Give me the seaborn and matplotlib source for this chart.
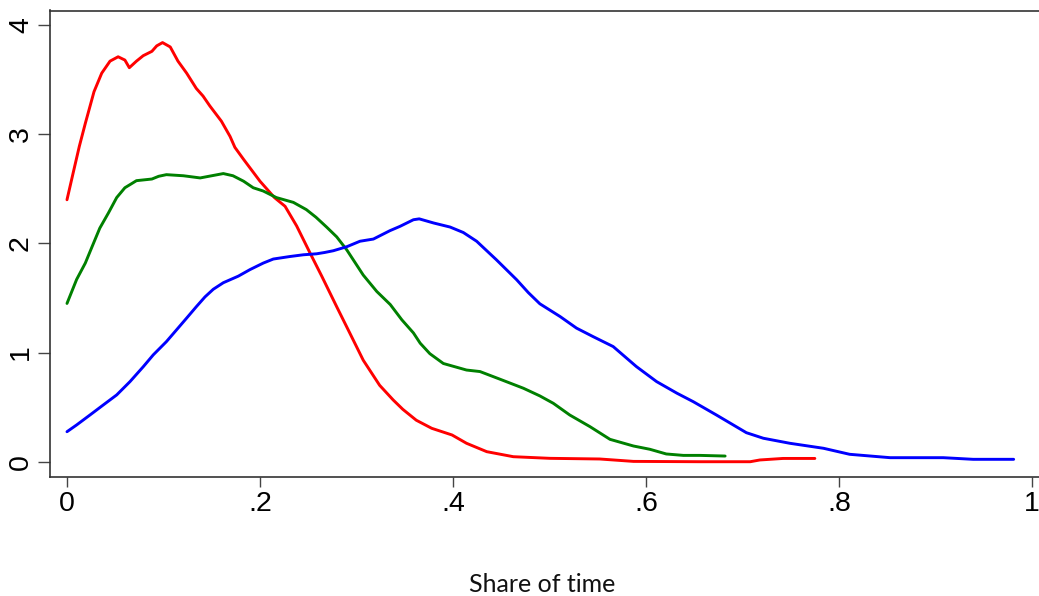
import matplotlib
matplotlib.use("Agg")
import matplotlib.pyplot as plt
import seaborn as sns
import pandas as pd

# ---- data ----
red_x = [0, 0.0065, 0.0128, 0.019, 0.028, 0.036, 0.0446, 0.053, 0.060, 0.0646, 0.072, 0.079,
         0.088, 0.093, 0.099, 0.107, 0.115, 0.124, 0.134, 0.141, 0.148, 0.160, 0.169, 0.174,
         0.183, 0.200, 0.215, 0.226, 0.238, 0.252, 0.264, 0.2795, 0.293, 0.307, 0.324, 0.338,
         0.348, 0.362, 0.378, 0.399, 0.414, 0.435, 0.4625, 0.5005, 0.552, 0.587, 0.656, 0.708,
         0.718, 0.742, 0.775]
red_y = [2.40, 2.65, 2.89, 3.10, 3.39, 3.56, 3.67, 3.71, 3.68, 3.61, 3.67, 3.72,
         3.76, 3.81, 3.84, 3.80, 3.67, 3.56, 3.42, 3.35, 3.26, 3.12, 2.98, 2.88,
         2.77, 2.57, 2.42, 2.34, 2.16, 1.91, 1.70, 1.42, 1.18, 0.93, 0.70, 0.566,
         0.48, 0.38, 0.306, 0.245, 0.169, 0.092, 0.046, 0.031, 0.025, 0.003, 0.0, 0.0,
         0.016, 0.03, 0.03]

green_x = [0, 0.010, 0.019, 0.026, 0.034, 0.043, 0.0515, 0.060, 0.072, 0.088, 0.095, 0.103,
           0.1206, 0.138, 0.150, 0.162, 0.172, 0.183, 0.193, 0.2034, 0.217, 0.2346, 0.248,
           0.258, 0.269, 0.2795, 0.290, 0.307, 0.321, 0.335, 0.347, 0.359, 0.366, 0.376,
           0.390, 0.414, 0.428, 0.4487, 0.473, 0.490, 0.504, 0.521, 0.542, 0.5627, 0.587,
           0.604, 0.621, 0.6387, 0.656, 0.682]
green_y = [1.45, 1.67, 1.82, 1.97, 2.14, 2.28, 2.42, 2.51, 2.575, 2.59, 2.615, 2.63,
           2.62, 2.60, 2.62, 2.64, 2.62, 2.57, 2.51, 2.48, 2.42, 2.376, 2.31,
           2.24, 2.15, 2.06, 1.94, 1.71, 1.56, 1.44, 1.30, 1.18, 1.086, 0.99,
           0.90, 0.84, 0.826, 0.756, 0.673, 0.603, 0.535, 0.428, 0.321, 0.205, 0.144,
           0.114, 0.071, 0.058, 0.058, 0.052]

blue_x = [0, 0.010, 0.0238, 0.0376, 0.0515, 0.0653, 0.079, 0.0894, 0.103, 0.1137, 0.124,
          0.134, 0.143, 0.1516, 0.162, 0.1775, 0.1896, 0.2034, 0.2138, 0.231, 0.245, 0.2587,
          0.267, 0.276, 0.290, 0.3036, 0.3175, 0.3347, 0.345, 0.359, 0.365, 0.380, 0.397,
          0.4107, 0.4245, 0.445, 0.466, 0.478, 0.490, 0.511, 0.528, 0.545, 0.566, 0.590,
          0.611, 0.632, 0.649, 0.673, 0.704, 0.7216, 0.749, 0.784, 0.811, 0.853, 0.908,
          0.939, 0.981]
blue_y = [0.275, 0.337, 0.428, 0.52, 0.612, 0.734, 0.87, 0.979, 1.10, 1.21, 1.316,
          1.42, 1.51, 1.58, 1.64, 1.70, 1.76, 1.82, 1.857, 1.88, 1.896, 1.905,
          1.917, 1.933, 1.97, 2.02, 2.04, 2.117, 2.156, 2.217, 2.225, 2.187, 2.15,
          2.10, 2.02, 1.85, 1.667, 1.55, 1.447, 1.33, 1.224, 1.147, 1.055, 0.872,
          0.734, 0.628, 0.55, 0.428, 0.266, 0.215, 0.169, 0.123, 0.068, 0.037, 0.037,
          0.022, 0.022]

x_ticks = [0, 0.2, 0.4, 0.6, 0.8, 1.0]
x_tick_labels = ["0", ".2", ".4", ".6", ".8", "1"]
y_ticks = [0, 1, 2, 3, 4]
y_tick_labels = ["0", "1", "2", "3", "4"]
x_label = "Share of time"

df = pd.concat([
    pd.DataFrame({"x": red_x, "y": red_y, "series": "red"}),
    pd.DataFrame({"x": green_x, "y": green_y, "series": "green"}),
    pd.DataFrame({"x": blue_x, "y": blue_y, "series": "blue"}),
], ignore_index=True)

sns.set_theme(style="white")
plt.rcParams["font.family"] = ["Liberation Sans", "DejaVu Sans"]

fig = plt.figure(figsize=(10.39, 5.96), dpi=100)
ax = fig.add_axes([50 / 1039, 1 - 477 / 596, 1 - 50 / 1039, (477 - 10.5) / 596])

sns.lineplot(data=df, x="x", y="y", hue="series",
             palette={"red": "#ff0000", "green": "#008000", "blue": "#0000ff"},
             estimator=None, sort=False, linewidth=2.1, legend=False, ax=ax)
for ln in ax.lines:
    ln.set_solid_joinstyle("round")
    ln.set_solid_capstyle("round")

ax.set_xlim(-0.0176, (1039 - 67) / 965)
ax.set_ylim(-0.14, 4.134)
ax.set_xticks(x_ticks)
ax.set_xticklabels(x_tick_labels, fontsize=20.5)
ax.set_yticks(y_ticks)
ax.set_yticklabels(y_tick_labels, fontsize=20.5, rotation=90, va="center")

for s in ["left", "bottom", "top"]:
    ax.spines[s].set_color("#333333")
    ax.spines[s].set_linewidth(1.2)
ax.spines["right"].set_visible(False)

ax.tick_params(axis="x", length=7.2, width=1.0, color="#444444", pad=3, colors="black")
ax.tick_params(axis="y", length=8.5, width=1.0, color="#444444", pad=3, colors="black")
ax.tick_params(axis="both", which="both", bottom=True, left=True, color="#444444")

ax.set_ylabel("")
ax.set_xlabel(x_label, fontsize=18, family=["Lato", "DejaVu Sans"], color="#111111")
ax.xaxis.set_label_coords(542 / 1039, (596 - 591.5) / 596, transform=fig.transFigure)
ax.xaxis.label.set_va("baseline")
ax.grid(False)

fig.savefig("out.png", dpi=100)
